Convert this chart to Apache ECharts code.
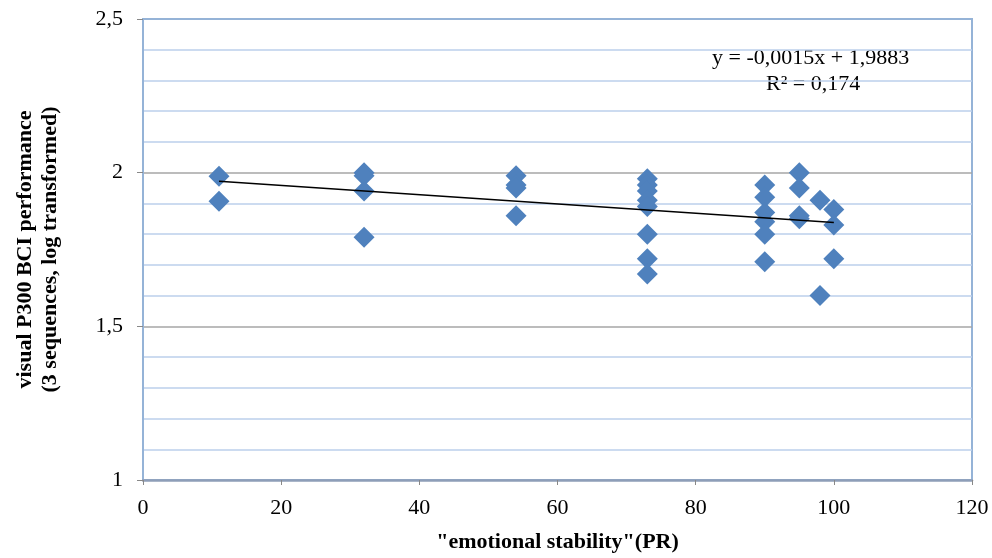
<!DOCTYPE html>
<html><head><meta charset="utf-8">
<script src="https://cdn.jsdelivr.net/npm/echarts@6/dist/echarts.min.js"></script>
<style>html,body{margin:0;padding:0;background:#fff}#c{width:992px;height:558px}</style>
</head><body><div id="c"></div>
<script>
// x: "emotional stability" (PR), y: visual P300 BCI performance (log)
const xValues = [11,11, 32,32,32,32, 54,54,54,54, 73,73,73,73,73,73,73,73, 90,90,90,90,90,90, 95,95,95,95, 98,98, 100,100,100];
const yValues = [1.988,1.907, 2.0,1.99,1.94,1.79, 1.99,1.96,1.95,1.86, 1.98,1.96,1.94,1.91,1.89,1.80,1.72,1.67, 1.96,1.92,1.87,1.84,1.80,1.71, 2.0,1.95,1.86,1.85, 1.91,1.60, 1.88,1.83,1.72];
const trendX = [11, 100];
const trendY = [1.972, 1.838];
const xTicks = [0, 20, 40, 60, 80, 100, 120];
const yTicks = [1, 1.5, 2, 2.5];
const equationText = 'y = -0,0015x + 1,9883';
const r2Text = 'R² = 0,174';

const serif = '"Liberation Serif", "DejaVu Serif", serif';
const chart = echarts.init(document.getElementById('c'));
chart.setOption({
  animation: false,
  backgroundColor: '#fff',
  grid: {left: 143, right: 20, top: 19, bottom: 76, show: true, borderColor: '#95B3D7', borderWidth: 2, backgroundColor: 'transparent'},
  xAxis: {
    type: 'value', min: xTicks[0], max: xTicks[xTicks.length-1], interval: 20,
    axisLine: {show: true, lineStyle: {color: '#8E9EB8', width: 2.5}},
    axisTick: {show: true, length: 5, lineStyle: {color: '#888'}},
    axisLabel: {color: '#000', fontFamily: serif, fontSize: 22, margin: 17},
    splitLine: {show: false},
    name: '"emotional stability"(PR)', nameLocation: 'middle', nameGap: 51,
    nameTextStyle: {color: '#000', fontFamily: serif, fontSize: 22, fontWeight: 'bold'}
  },
  yAxis: {
    type: 'value', min: yTicks[0], max: yTicks[yTicks.length-1], interval: 0.5,
    axisLine: {show: true, lineStyle: {color: '#95B3D7', width: 2}},
    axisTick: {show: true, length: 6, lineStyle: {color: '#888'}},
    axisLabel: {color: '#000', fontFamily: serif, fontSize: 22, margin: 20,
      formatter: v => String(v).replace('.', ',')},
    splitLine: {show: true, showMinLine: false, showMaxLine: false, lineStyle: {color: '#A6A6A6', width: 1.5}},
    minorTick: {show: false, splitNumber: 5},
    minorSplitLine: {show: true, lineStyle: {color: '#BCD0EB', width: 1.5}},
    name: 'visual P300 BCI performance\n(3 sequences, log transformed)', nameLocation: 'middle', nameGap: 80, nameRotate: 90,
    nameTextStyle: {color: '#000', fontFamily: serif, fontSize: 22, fontWeight: 'bold', lineHeight: 25}
  },
  series: [
    {type: 'scatter', data: xValues.map((x, i) => [x, yValues[i]]), symbol: 'diamond', symbolSize: 21,
     itemStyle: {color: '#4F81BD', opacity: 1}, z: 3},
    {type: 'line', data: trendX.map((x, i) => [x, trendY[i]]), symbol: 'none',
     lineStyle: {color: '#000', width: 1.6}, z: 4}
  ],
  graphic: [
    {type: 'text', left: 712, top: 47, style: {text: equationText, fill: '#000', font: '22px ' + serif}},
    {type: 'text', left: 766, top: 73, style: {text: r2Text, fill: '#000', font: '22px ' + serif}}
  ]
});
</script></body></html>
